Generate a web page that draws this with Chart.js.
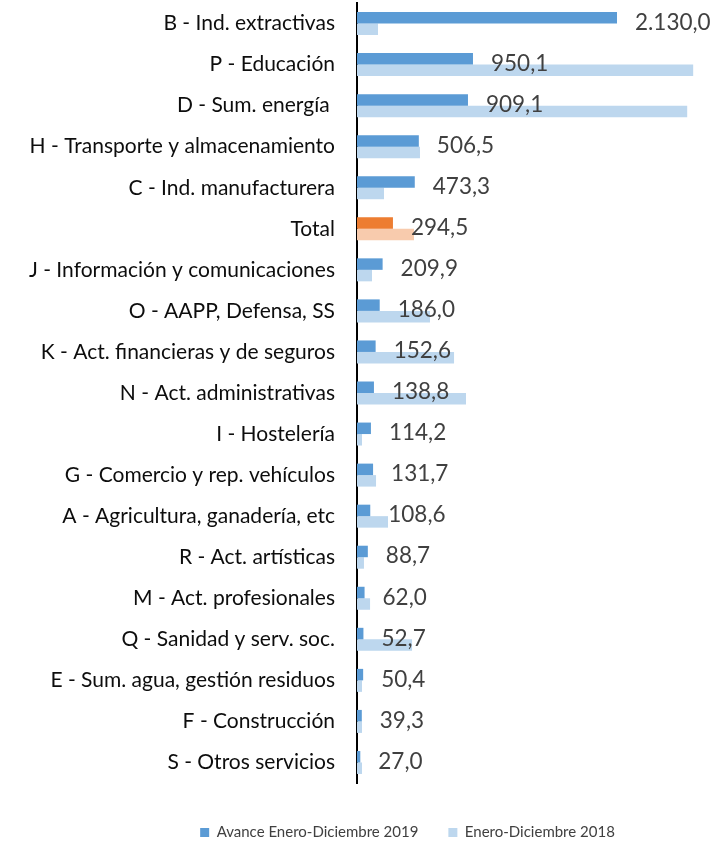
<!DOCTYPE html>
<html>
<head>
<meta charset="utf-8">
<script src="https://cdn.jsdelivr.net/npm/chart.js@4/dist/chart.umd.min.js"></script>
<style>
    html, body { margin: 0; padding: 0; background: #fff; }
    #wrap { width: 719px; height: 844px; }
</style>
</head>
<body>
<div id="wrap"><canvas id="grafico"></canvas></div>
<script>
const categorias = [
    "B - Ind. extractivas",
    "P - Educación",
    "D - Sum. energía ",
    "H - Transporte y almacenamiento",
    "C - Ind. manufacturera",
    "Total",
    "J - Información y comunicaciones",
    "O - AAPP, Defensa, SS",
    "K - Act. financieras y de seguros",
    "N - Act. administrativas",
    "I - Hostelería",
    "G - Comercio y rep. vehículos",
    "A - Agricultura, ganadería, etc",
    "R - Act. artísticas",
    "M - Act. profesionales",
    "Q - Sanidad y serv. soc.",
    "E - Sum. agua, gestión residuos",
    "F - Construcción",
    "S - Otros servicios"
];

// Avance Enero-Diciembre 2019 (valores de las etiquetas)
const valores2019 = [2130.0, 950.1, 909.1, 506.5, 473.3, 294.5, 209.9, 186.0, 152.6, 138.8,
    114.2, 131.7, 108.6, 88.7, 62.0, 52.7, 50.4, 39.3, 27.0];

// Enero-Diciembre 2018 (estimados del largo de las barras)
const valores2018 = [172, 2754, 2705, 516, 221, 467, 123, 598, 795, 893,
    41, 156, 254, 57, 107, 451, 41, 41, 41];

const nombresSeries = ["Avance Enero-Diciembre 2019", "Enero-Diciembre 2018"];

const azulOscuro = "#5B9BD5";
const azulClaro = "#BDD7EE";
const naranjaOscuro = "#ED7D31";
const naranjaClaro = "#F8CBAD";
const idxTotal = categorias.indexOf("Total");

function formatoES(v) {
    const [ent, dec] = v.toFixed(1).split(".");
    return ent.replace(/\B(?=(\d{3})+(?!\d))/g, ".") + "," + dec;
}

// etiquetas de valor a la derecha de la barra 2019
const etiquetasValor = {
    id: "etiquetasValor",
    afterDatasetsDraw(chart) {
        const ctx = chart.ctx;
        const m0 = chart.getDatasetMeta(0);
        const m1 = chart.getDatasetMeta(1);
        ctx.save();
        ctx.font = "22.5px Lato";
        ctx.fillStyle = "#404040";
        ctx.textAlign = "left";
        ctx.textBaseline = "middle";
        m0.data.forEach((bar, i) => {
            const y = (bar.y + m1.data[i].y) / 2 - 1;
            ctx.fillText(formatoES(valores2019[i]), bar.x + 18, y);
        });
        ctx.restore();
    }
};

// la leyenda de Excel queda corrida a la derecha
const moverLeyenda = {
    id: "moverLeyenda",
    afterLayout(chart) {
        const lg = chart.legend;
        if (!lg) return;
        lg.left += 104;
        lg.right = Math.min(lg.right + 0, chart.width - 8);
    }
};

new Chart(document.getElementById("grafico"), {
    type: "bar",
    data: {
        labels: categorias,
        datasets: [
            {
                label: nombresSeries[0],
                data: valores2019,
                backgroundColor: (c) => c.dataIndex === idxTotal ? naranjaOscuro : azulOscuro
            },
            {
                label: nombresSeries[1],
                data: valores2018,
                backgroundColor: (c) => c.dataIndex === idxTotal ? naranjaClaro : azulClaro
            }
        ]
    },
    options: {
        indexAxis: "y",
        responsive: true,
        maintainAspectRatio: false,
        animation: false,
        events: [],
        datasets: {
            bar: { categoryPercentage: 0.56, barPercentage: 1.0 }
        },
        layout: { padding: { top: 3, right: 8, bottom: -6, left: 0 } },
        scales: {
            x: {
                min: 0,
                max: 2900,
                grid: { display: false },
                border: { display: false },
                ticks: { display: false },
                afterFit: (s) => { s.height = 12; }
            },
            y: {
                grid: { display: false, drawTicks: false },
                border: { display: true, color: "#000", width: 2 },
                ticks: {
                    padding: 22,
                    color: "#0d0d0d",
                    font: { family: "Lato", size: 21 }
                },
                afterFit: (s) => {
                    s.width = 357;
                    s.paddingTop = 0;
                    s.paddingBottom = 0;
                }
            }
        },
        plugins: {
            legend: {
                position: "bottom",
                labels: {
                    boxWidth: 9,
                    boxHeight: 9,
                    padding: 30,
                    color: "#404040",
                    font: { family: "Lato", size: 15 }
                }
            },
            tooltip: { enabled: false }
        }
    },
    plugins: [etiquetasValor, moverLeyenda]
});
</script>
</body>
</html>
